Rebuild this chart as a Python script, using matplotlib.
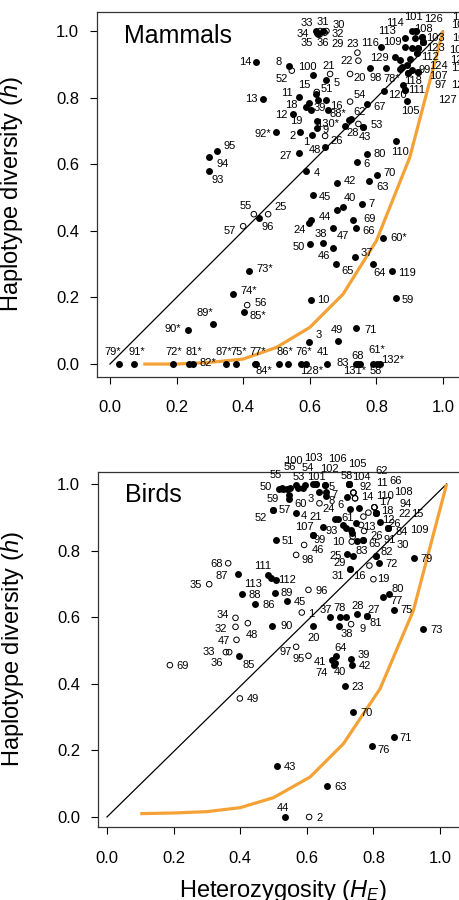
import numpy as np
import matplotlib
matplotlib.use("Agg")
import matplotlib.pyplot as plt

plt.rcParams['font.family'] = ['Liberation Sans', 'DejaVu Sans']
plt.rcParams['mathtext.fontset'] = 'custom'
plt.rcParams['mathtext.rm'] = 'Liberation Sans'
plt.rcParams['mathtext.it'] = 'Liberation Sans:italic'

# ---- mammals: label, heterozygosity, haplotype diversity, open symbol ----
mam_lab = ["14", "13", "92*", "95", "94", "93", "55", "25", "96", "57",
           "73*", "74*", "56", "85*", "89*", "90*", "79*", "91*", "72*", "81*",
           "82*", "87*", "75*", "77*", "84*", "86*", "", "76*", "128*", "41",
           "83", "131*", "68", "58", "61*", "132*", "3", "49", "71", "10",
           "59", "119", "64", "37", "65", "46", "50", "38", "47", "44",
           "24", "", "40", "7", "45", "69", "66", "60*", "42", "63",
           "70", "6", "80", "110", "4", "27", "48", "1", "2", "26",
           "9", "19", "130*", "88*", "62", "53", "28", "43", "12", "18",
           "39", "", "", "16", "11", "15", "", "51", "5", "21",
           "100", "8", "52", "20", "54", "67", "22", "23", "116", "98",
           "78*", "129", "120", "105", "118", "111", "114", "101", "113", "109",
           "108", "103", "126", "", "", "123", "112", "", "124", "",
           "", "99", "97", "107", "127", "", "125", "106", "104", "102",
           "121", "117", "122", "33", "34", "35", "36", "31", "32", "30",
           "29"]
mam_H = [.438, .459, .498, .321, .297, .297, .432, .475, .448, .400,
         .418, .368, .412, .403, .310, .235, .028, .072, .188, .238,
         .248, .348, .378, .435, .440, .508, .535, .573, .589, .653,
         .739, .745, .751, .789, .801, .810, .598, .685, .739, .604,
         .859, .846, .789, .735, .680, .670, .600, .639, .669, .604,
         .598, .681, .699, .756, .609, .729, .739, .821, .681, .779,
         .801, .743, .771, .859, .589, .568, .646, .608, .571, .646,
         .623, .623, .706, .719, .723, .761, .746, .761, .550, .589,
         .603, .598, .648, .656, .568, .618, .621, .626, .648, .661,
         .610, .538, .546, .721, .721, .771, .746, .743, .814, .781,
         .829, .856, .823, .893, .881, .886, .906, .919, .886, .886,
         .936, .941, .941, .916, .906, .926, .921, .871, .901, .891,
         .876, .906, .896, .926, .886, .871, .919, .936, .941, .926,
         .921, .926, .896, .620, .623, .625, .630, .631, .640, .650,
         .645]
mam_h = [.907, .796, .698, .640, .622, .580, .450, .450, .438, .414,
         .279, .210, .177, .157, .120, .102, 0, 0, 0, 0,
         0, 0, 0, 0, 0, 0, 0, 0, 0, 0,
         0, 0, 0, 0, 0, 0, .066, .069, .109, .192,
         .197, .280, .300, .322, .300, .349, .360, .362, .408, .434,
         .425, .464, .471, .480, .508, .432, .409, .379, .544, .550,
         .568, .607, .631, .671, .580, .633, .653, .688, .698, .685,
         .708, .731, .715, .733, .735, .713, .721, .713, .751, .771,
         .763, .785, .793, .763, .801, .811, .817, .793, .853, .871,
         .868, .895, .881, .871, .788, .781, .911, .935, .953, .889,
         .890, .921, .821, .790, .838, .823, 1.0, 1.0, .978, .953,
         .983, .968, .968, .978, .948, .948, .933, .913, .916, .898,
         .893, .883, .873, .878, .823, .886, 1.0, .983, .968, .948,
         .933, .878, .873, 1.0, .995, .990, .990, 1.0, 1.0, 1.0,
         .995]
mam_open = [0, 0, 0, 0, 0, 0, 1, 1, 0, 1,
            0, 0, 1, 0, 0, 0, 0, 0, 0, 0,
            0, 0, 0, 0, 0, 0, 0, 0, 0, 0,
            0, 0, 0, 0, 0, 0, 0, 0, 0, 0,
            0, 0, 0, 0, 0, 0, 0, 0, 0, 0,
            0, 0, 0, 0, 0, 0, 0, 0, 0, 0,
            0, 0, 0, 0, 0, 0, 0, 0, 0, 1,
            0, 0, 0, 0, 0, 0, 1, 0, 0, 0,
            0, 0, 0, 0, 0, 0, 1, 0, 0, 1,
            0, 0, 1, 1, 1, 0, 1, 1, 0, 0,
            0, 0, 0, 0, 0, 0, 0, 0, 0, 0,
            0, 0, 0, 0, 0, 0, 0, 0, 0, 0,
            0, 0, 0, 0, 0, 0, 0, 0, 0, 0,
            0, 0, 0, 0, 0, 0, 1, 1, 0, 1,
            1]
# label offsets from the point (pixels)
mam_dx = [-11, -11, -13, 13, 14, 9, -8, 12, 9, -13,
          16, 16, 14, 14, -8, -15, -7, 3, 1, 5,
          15, -2, 3, 3, 7, 6, 0, 3, 6, -4,
          -13, -3, -2, 3, 0, 13, 10, -1, 15, 12,
          12, 15, 7, 12, 11, -9, -11, -2, 10, 14,
          -9, 0, 7, 10, 12, 17, 13, 15, 13, 13,
          13, 9, 13, 4, 11, -13, -10, -6, -8, 12,
          8, -21, -17, -11, 9, 13, -6, 2, -12, -15,
          9, 0, 0, 8, -12, -11, 0, 8, 11, -1,
          -6, -11, -10, 10, 10, 13, -12, -5, -11, 6,
          6, -16, 13, 3, 10, 12, -17, -3, -18, -13,
          2, 12, 10, 0, 0, 17, 13, 0, 28, 0,
          0, 13, 32, 20, 42, 0, 45, 39, 38, 40,
          43, 42, 52, -10, -15, -11, 3, 3, 15, 12,
          13]
mam_dy = [0, 0, -2, 5, -7, -9, 8, 7, -9, -5,
          2, 3, 2, -4, 11, 1, 12, 12, 12, 12,
          1, 12, 12, 12, -7, 12, 0, 12, -7, 12,
          1, -7, 8, -7, 14, 4, 7, 11, -2, 0,
          -2, -2, -9, 4, -7, -8, -3, 9, -8, 3,
          -7, 0, 9, 0, -2, 1, -3, 0, 2, -6,
          2, -2, 0, -11, -2, -3, -3, -7, -4, -5,
          -2, 0, 2, 6, 7, 2, -9, -10, -1, 2,
          2, 0, 0, 4, 4, 9, 0, 11, -3, 8,
          8, 4, -8, -4, 7, -3, 0, 9, 4, -10,
          -11, -1, -4, -10, 4, 0, 8, 14, 7, 5,
          8, 4, 23, 0, 0, 0, -4, 0, -7, 0,
          0, 0, -12, -4, -10, 0, 14, 12, 4, -2,
          -7, 4, -12, 8, -1, -9, -9, 9, -3, 6,
          -11]

# ---- birds ----
bird_lab = ["68", "87", "35", "111", "113", "112", "88", "86", "34", "32",
            "48", "47", "90", "33", "36", "85", "69", "49", "97", "95",
            "64", "41", "74", "40", "39", "42", "23", "70", "71", "76",
            "43", "63", "44", "2", "79", "73", "75", "77", "80", "19",
            "31", "16", "25", "29", "10", "", "83", "65", "91", "82",
            "30", "72", "", "46", "98", "107", "99", "93", "51", "57",
            "52", "4", "24", "21", "61", "", "", "", "", "",
            "", "", "", "13", "26", "", "18", "22", "15", "17",
            "94", "108", "12", "26", "84", "109", "55", "50", "", "",
            "56", "100", "53", "", "54", "103", "101", "102", "106", "5",
            "7", "8", "3", "58", "104", "105", "62", "6", "92", "11",
            "66", "14", "110", "60", "59", "89", "45", "96", "1", "37",
            "78", "", "28", "27", "81", "9", "38", "20"]
bird_H = [.364, .394, .307, .484, .492, .508, .406, .444, .386, .386,
          .423, .389, .495, .357, .367, .397, .189, .399, .568, .605,
          .687, .675, .683, .685, .732, .735, .715, .740, .862, .795,
          .511, .662, .535, .607, .922, .950, .863, .828, .847, .800,
          .730, .730, .722, .738, .735, .738, .752, .768, .768, .808,
          .808, .818, .788, .592, .568, .618, .618, .648, .508, .498,
          .498, .568, .638, .685, .695, .710, .718, .732, .735, .748,
          .730, .758, .770, .763, .772, .785, .808, .808, .808, .803,
          .803, .803, .820, .845, .845, .845, .525, .517, .529, .541,
          .550, .568, .574, .589, .595, .619, .627, .627, .655, .655,
          .658, .658, .638, .728, .728, .728, .728, .722, .740, .740,
          .740, .745, .745, .547, .547, .505, .540, .605, .585, .670,
          .700, .718, .752, .780, .780, .733, .698, .620]
bird_h = [.762, .729, .699, .728, .718, .712, .669, .639, .598, .571,
          .582, .532, .574, .495, .495, .484, .456, .356, .511, .484,
          .484, .471, .456, .462, .474, .456, .394, .314, .241, .214,
          .153, .093, 0, 0, .777, .564, .622, .660, .669, .714,
          .744, .744, .789, .784, .827, .842, .830, .832, .832, .784,
          .784, .764, .755, .817, .787, .847, .847, .870, .833, .922,
          .922, .912, .942, .894, .894, .877, .867, .862, .854, .884,
          .924, .927, .902, .877, .859, .914, .914, .914, .914, .930,
          .930, .930, .887, .868, .868, .868, .988, .986, .986, .984,
          .989, .997, .987, .987, .997, 1.0, 1.0, 1.0, .997, .997,
          .977, .964, .977, 1.0, 1.0, 1.0, 1.0, .962, .974, .974,
          .974, .957, .957, .968, .956, .674, .650, .682, .614, .601,
          .601, .601, .610, .604, .604, .579, .574, .574]
bird_open = [1, 0, 1, 0, 0, 0, 0, 0, 1, 1,
             1, 1, 0, 1, 1, 0, 1, 1, 1, 1,
             0, 0, 0, 0, 0, 0, 0, 0, 0, 0,
             0, 0, 0, 1, 0, 0, 0, 0, 0, 1,
             0, 0, 0, 0, 1, 1, 0, 0, 0, 0,
             0, 0, 1, 1, 1, 0, 0, 0, 0, 0,
             0, 0, 1, 0, 0, 0, 0, 0, 0, 0,
             0, 0, 1, 1, 1, 1, 0, 0, 0, 1,
             1, 1, 0, 0, 0, 0, 0, 0, 0, 0,
             0, 0, 0, 0, 0, 0, 0, 0, 0, 0,
             0, 0, 0, 0, 0, 0, 0, 0, 1, 1,
             1, 1, 1, 0, 0, 0, 0, 1, 1, 0,
             0, 0, 0, 0, 0, 1, 0, 0]
bird_dx = [-12, -16, -13, -6, -18, 11, 13, 14, -13, -15,
           4, -13, 15, -17, -12, 10, 13, 13, -11, -10,
           5, -12, -13, 5, 13, 13, 13, 13, 12, 12,
           13, 13, -2, 10, 13, 13, 12, 14, 9, 10,
           -12, 9, -12, -13, -13, 0, 4, 12, 27, 11,
           27, 12, 0, 14, 12, -8, 7, 9, 12, 12,
           -12, 8, 9, -19, 9, 0, 0, 0, 0, 0,
           0, 0, 0, 8, 13, 0, 11, 29, 41, 11,
           31, 29, 8, 6, 13, 31, -6, -13, 0, 0,
           0, -3, 1, 0, 3, 0, 1, 14, 12, 7,
           8, 6, -9, -3, 12, 8, 32, -7, 12, 28,
           42, 12, 30, 11, -16, 12, 13, 13, 9, -4,
           0, 0, 0, 7, 9, 11, 7, 0]
bird_dy = [-1, -2, -1, 9, -6, 0, -1, -1, 3, -2,
           -12, -1, 0, 0, -11, -9, -1, -1, -5, -3,
           8, -2, -8, -9, 4, -1, -1, -1, -1, -4,
           -1, -1, 9, -1, -1, -1, 0, -4, 5, 0,
           -7, -7, -2, -7, 0, 0, -10, -4, 0, 4,
           11, -1, 0, -5, -5, 8, -5, -4, -1, 0,
           -8, -3, -6, 2, 1, 0, 0, 0, 0, 0,
           0, 0, 0, -2, -5, 0, 2, -1, -1, 5,
           3, 15, 2, 4, -4, -2, 13, 2, 0, 0,
           21, 24, 11, 0, 17, 26, 7, 15, 26, -2,
           -3, -5, -7, 8, 7, 20, 13, -8, 6, 10,
           12, 1, 2, -9, 0, 0, -1, -1, -1, 7,
           9, 0, 8, 6, -7, -5, -8, -12]

# expected h under neutrality (orange curves)
mam_curve_H = [0.1, 0.2, 0.3, 0.4, 0.5, 0.6, 0.7, 0.8, 0.9, 1.0]
mam_curve_h = [0.0, 0.0, 0.005, 0.015, 0.05, 0.11, 0.21, 0.37, 0.62, 1.0]
bird_curve_H = [0.1, 0.2, 0.3, 0.4, 0.5, 0.61, 0.71, 0.82, 0.92, 1.02]
bird_curve_h = [0.01, 0.012, 0.016, 0.028, 0.058, 0.12, 0.22, 0.385, 0.62, 1.0]

ticks = [0.0, 0.2, 0.4, 0.6, 0.8, 1.0]
orange = '#F4A236'
spine_col = '#333333'


def panel(ax, lab, H, h, op, dx, dy, cH, ch, diag_end, title):
    H = np.array(H)
    h = np.array(h)
    op = np.array(op, dtype=bool)
    ax.plot([0, diag_end], [0, 1], color='black', lw=0.9, zorder=1)
    ax.plot(cH, ch, color=orange, lw=2.3, zorder=2, solid_capstyle='butt')
    ax.scatter(H[~op], h[~op], s=25, color='black', lw=0, zorder=3)
    ax.scatter(H[op], h[op], s=16, facecolor='none', edgecolor='black',
               lw=0.7, zorder=4)
    for i in range(len(lab)):
        if lab[i] == "":
            continue
        ax.annotate(lab[i], (H[i], h[i]), xytext=(dx[i], dy[i]),
                    textcoords='offset pixels', ha='center', va='center',
                    fontsize=8, annotation_clip=False, zorder=5)
    ax.set_xticks(ticks)
    ax.set_yticks(ticks)
    ax.set_xticklabels(["%.1f" % t for t in ticks])
    ax.set_yticklabels(["%.1f" % t for t in ticks])
    ax.tick_params(direction='out', length=5, width=0.8, labelsize=12,
                   colors='black')
    ax.tick_params(axis='x', pad=12)
    ax.tick_params(axis='y', pad=8)
    for s in ax.spines.values():
        s.set_color(spine_col)
        s.set_linewidth(0.9)
    ax.set_ylabel("Haplotype diversity ($h$)", fontsize=17)
    ax.yaxis.set_label_coords(-0.19, 0.5)
    ax.text(0.07, 0.915, title, transform=ax.transAxes, fontsize=18,
            ha='left', va='baseline')


fig = plt.figure(figsize=(4.59, 9.0), dpi=100)
ax1 = fig.add_axes([97.3 / 459, 1 - 376.7 / 900, 379 / 459, 365 / 900])
ax2 = fig.add_axes([98.3 / 459, 1 - 827.3 / 900, 378 / 459, 355.3 / 900])

panel(ax1, mam_lab, mam_H, mam_h, mam_open, mam_dx, mam_dy,
      mam_curve_H, mam_curve_h, 1.0, "Mammals")
ax1.set_xlim(-0.038, 1.10)
ax1.set_ylim(-0.038, 1.058)

panel(ax2, bird_lab, bird_H, bird_h, bird_open, bird_dx, bird_dy,
      bird_curve_H, bird_curve_h, 1.02, "Birds")
ax2.set_xlim(-0.026, 1.109)
ax2.set_ylim(-0.031, 1.036)
ax2.set_xlabel("Heterozygosity ($H_E$)", fontsize=17)
ax2.xaxis.set_label_coords(0.489, -0.143)

fig.savefig("out.png", dpi=100)
